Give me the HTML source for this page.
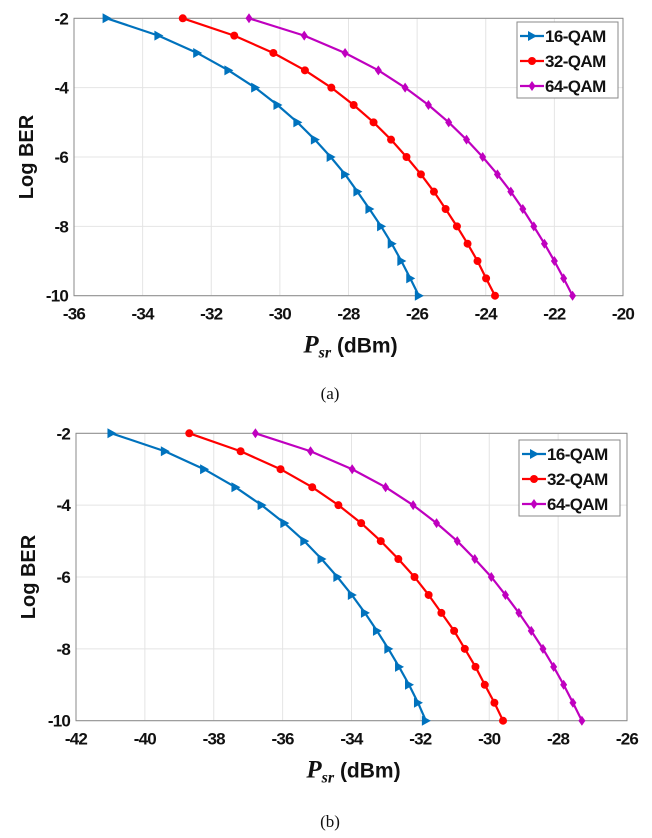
<!DOCTYPE html>
<html><head><meta charset="utf-8"><style>
html,body{margin:0;padding:0;background:#fff;}
svg{display:block;font-family:"Liberation Sans",Arial,sans-serif;}
</style></head><body>
<svg id="fig" width="652" height="838" viewBox="0 0 652 838"></svg>
<script>
const levels = [-2,-2.5,-3,-3.5,-4,-4.5,-5,-5.5,-6,-6.5,-7,-7.5,-8,-8.5,-9,-9.5,-10];
const seriesNames = ['16-QAM','32-QAM','64-QAM'];
const a16 = [-35.05,-33.54,-32.41,-31.5,-30.72,-30.07,-29.49,-28.98,-28.52,-28.1,-27.74,-27.39,-27.05,-26.74,-26.46,-26.2,-25.95];
const a32 = [-32.83,-31.33,-30.19,-29.27,-28.5,-27.85,-27.27,-26.76,-26.31,-25.89,-25.51,-25.17,-24.84,-24.53,-24.24,-23.99,-23.73];
const a64 = [-30.9,-29.29,-28.1,-27.13,-26.35,-25.67,-25.08,-24.56,-24.09,-23.66,-23.27,-22.92,-22.6,-22.29,-22.0,-21.73,-21.47];
const b16 = [-40.97,-39.42,-38.28,-37.37,-36.61,-35.95,-35.37,-34.87,-34.41,-33.99,-33.61,-33.26,-32.93,-32.62,-32.33,-32.07,-31.84];
const b32 = [-38.71,-37.22,-36.06,-35.14,-34.38,-33.72,-33.15,-32.64,-32.17,-31.76,-31.39,-31.02,-30.71,-30.4,-30.13,-29.85,-29.6];
const b64 = [-36.79,-35.19,-33.98,-33.01,-32.21,-31.53,-30.93,-30.42,-29.94,-29.53,-29.14,-28.78,-28.44,-28.13,-27.84,-27.57,-27.31];
const aXTicks = [-36,-34,-32,-30,-28,-26,-24,-22,-20];
const bXTicks = [-42,-40,-38,-36,-34,-32,-30,-28,-26];
const yTicks = [-2,-4,-6,-8,-10];

const NS='http://www.w3.org/2000/svg';
const svg=document.getElementById('fig');
const colors=['#0072BD','#FF0000','#BF00BF'];
function mk(tag,attrs,parent){const e=document.createElementNS(NS,tag);for(const k in attrs)e.setAttribute(k,attrs[k]);(parent||svg).appendChild(e);return e;}
function marker(g,k,x,y,c){
  let m;
  if(k===0){m=mk('polygon',{points:`${x-4},${y-5} ${x+5},${y} ${x-4},${y+5}`,fill:c},g);}
  else if(k===1){m=mk('circle',{cx:x,cy:y,r:4,fill:c},g);}
  else {m=mk('polygon',{points:`${x},${y-5} ${x+3.5},${y} ${x},${y+5} ${x-3.5},${y}`,fill:c},g);}
  
  
}
function chart(o){
  const g=mk('g',{});
  
  
  const X=v=>o.x0+(v-o.xt[0])/(o.xt[o.xt.length-1]-o.xt[0])*(o.x1-o.x0);
  const Y=v=>o.y0+(v-(-2))/(-10-(-2))*(o.y1-o.y0);
  o.xt.forEach(t=>{
    const l=mk('line',{x1:X(t),x2:X(t),y1:o.y0,y2:o.y1,stroke:'#e4e4e4','stroke-width':1},g);
    
    const tx=mk('text',{x:X(t),y:o.y1+24,'text-anchor':'middle','font-size':17,'font-weight':'bold','letter-spacing':-0.8,fill:'#111'},g);
    tx.textContent=t;
    
  });
  yTicks.forEach(t=>{
    const l=mk('line',{x1:o.x0,x2:o.x1,y1:Y(t),y2:Y(t),stroke:'#e4e4e4','stroke-width':1},g);
    
    const tx=mk('text',{x:o.x0-6,y:Y(t)+6,'text-anchor':'end','font-size':17,'font-weight':'bold','letter-spacing':-0.8,fill:'#111'},g);
    tx.textContent=t;
    
  });
  const box=mk('rect',{x:o.x0,y:o.y0,width:o.x1-o.x0,height:o.y1-o.y0,fill:'none',stroke:'#8a8a8a','stroke-width':1},g);
  
  o.series.forEach((s,k)=>{
    const sg=mk('g',{},g);
    
    
    const pts=s.map((v,i)=>X(v)+','+Y(levels[i])).join(' ');
    const pl=mk('polyline',{points:pts,fill:'none',stroke:colors[k],'stroke-width':2.2,'stroke-linejoin':'round'},sg);
    
    s.forEach((v,i)=>marker(sg,k,X(v),Y(levels[i]),colors[k]));
  });
  const lg=mk('g',{},g);
  
  mk('rect',{x:o.lx,y:o.ly,width:101,height:76,fill:'#fff',stroke:'#8a8a8a','stroke-width':1},lg);
  seriesNames.forEach((n,k)=>{
    const yy=o.ly+14+k*25;
    const e=mk('g',{},lg);
    
    mk('line',{x1:o.lx+3,x2:o.lx+27,y1:yy,y2:yy,stroke:colors[k],'stroke-width':2.2},e);
    marker(e,k,o.lx+15,yy,colors[k]);
    const t=mk('text',{x:o.lx+28,y:yy+6,'font-size':17,'font-weight':'bold','letter-spacing':-0.6,fill:'#111'},e);
    t.textContent=n;
  });
  const yl=mk('text',{x:0,y:0,transform:`translate(${o.x0-41},${(o.y0+o.y1)/2}) rotate(-90)`,'text-anchor':'middle','font-size':20,'font-weight':'bold',fill:'#111'},g);
  yl.textContent='Log BER';
  
  const xl=mk('text',{x:(o.x0+o.x1)/2+2,y:o.y1+57,'text-anchor':'middle','font-size':21,'font-weight':'bold',fill:'#111'},g);
  xl.innerHTML='<tspan font-family="Liberation Serif" font-style="italic" font-size="25">P</tspan><tspan font-family="Liberation Serif" font-style="italic" font-size="16" dy="5">sr</tspan><tspan dy="-5"> (dBm)</tspan>';
  
  const cap=mk('text',{x:o.capx,y:o.capy,'text-anchor':'middle','font-size':17,'font-family':'Liberation Serif',fill:'#111'},g);
  cap.textContent=o.cap;
  
}
chart({name:'chart-a',x0:74,x1:623,y0:18.3,y1:295.7,xt:aXTicks,series:[a16,a32,a64],lx:517,ly:22,cap:'(a)',capx:330,capy:399});
chart({name:'chart-b',x0:76,x1:627,y0:433.3,y1:720.7,xt:bXTicks,series:[b16,b32,b64],lx:519,ly:440,cap:'(b)',capx:330,capy:827});
</script>
</body></html>
